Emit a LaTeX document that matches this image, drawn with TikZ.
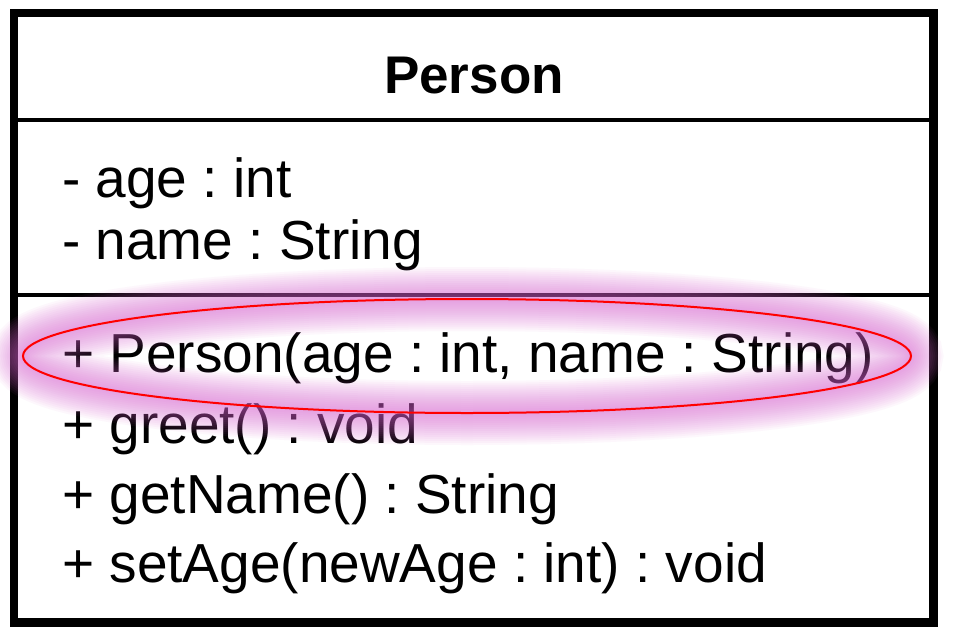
\documentclass[tikz,border=0pt]{standalone}
\usepackage{fontspec}
\setmainfont{Liberation Sans}
\begin{document}
\frenchspacing
\begin{tikzpicture}[x=1pt,y=-1pt,
  member/.style={anchor=base west,inner sep=0pt,font=\fontsize{55}{60}\selectfont},
  title/.style={anchor=base,inner sep=0pt,font=\fontsize{53}{60}\selectfont\bfseries},
  divider/.style={line width=3.5pt},
  glowring/.style={draw=glowc,opacity=0.05},
]
\definecolor{glowc}{RGB}{218,100,212}
\useasboundingbox (0,0) rectangle (954,643);
\fill[white] (0,0) rectangle (954,643);
% class box
\draw[line width=8.5pt] (14,13) rectangle (933.5,622.5);
\coordinate (d1l) at (18,120);
\coordinate (d1r) at (929,120);
\coordinate (d2l) at (18,295);
\coordinate (d2r) at (929,295);
\draw[divider] (d1l) -- (d1r);
\draw[divider] (d2l) -- (d2r);
% texts
\node[title] (cls) at (474,93) {Person};
\node[member] (a1) at (62,197) {- age : int};
\node[member] (a2) at (62,259) {- name : String};
\node[member] (m1) at (62,372) {+ Person(age : int, name : String)};
\node[member] (m2) at (62,443) {+ greet() : void};
\node[member] (m3) at (62,513) {+ getName() : String};
\node[member] (m4) at (62,582) {+ setAge(newAge : int) : void};
% glow
\foreach \w in {64,60,...,4}{
  \draw[glowring,line width=\w pt] (467,356) ellipse [x radius=444, y radius=57];
}
% highlight ellipse
\draw[red,line width=2pt] (467,356) ellipse [x radius=444, y radius=57];
\end{tikzpicture}
\end{document}
